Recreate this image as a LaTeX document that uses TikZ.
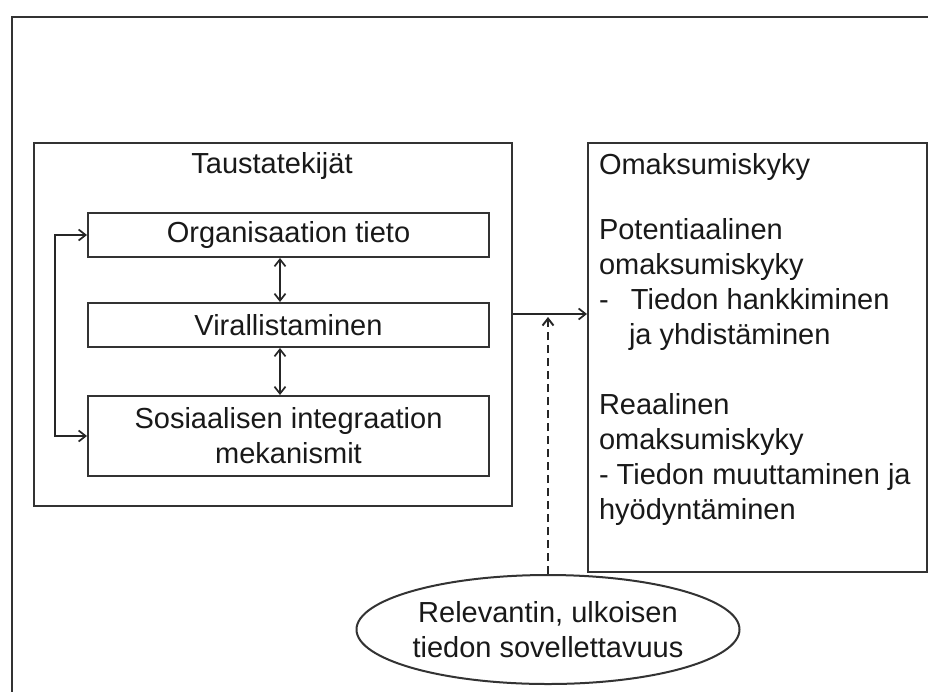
\documentclass[tikz,border=0pt]{standalone}
\usepackage{fontspec}
\setmainfont{Liberation Sans}
\usetikzlibrary{arrows.meta,shapes.geometric}
\begin{document}
\begin{tikzpicture}[x=1pt,y=-1pt,
  line width=2pt, draw=black!80,
  >={Straight Barb[length=7pt,width=11pt]},
  every node/.style={font=\fontsize{29}{35}\selectfont, text=black!90},
  box/.style={draw, rectangle, inner sep=0pt, align=center},
  conn/.style={->, line width=1.7pt, draw=black!85}]
\clip (0,0) rectangle (928,691);
\fill[white] (0,0) rectangle (928,691);
% outer frame
\node[box, minimum width=930, minimum height=690, anchor=north west] (frame) at (11,16) {};
% left container
\node[box, minimum width=478, minimum height=363] (tausta) at (273,324.5) {};
\node (ttitle) at (272,166) {Taustatekijät};
\node[box, minimum width=401, minimum height=44] (org) at (288.5,235) {Organisaation tieto};
\node[box, minimum width=401, minimum height=44] (vir) at (288.5,325) {Virallistaminen};
\node[box, minimum width=401, minimum height=80] (sos) at (288.5,436) {Sosiaalisen integraation\\mekanismit};
% right box
\node[box, minimum width=339, minimum height=429] (omak) at (757.5,357.5) {};
\node[anchor=north west, inner sep=0pt, align=left] (omaktext) at (598,152)
  {Omaksumiskyky\\[30pt]
   Potentiaalinen\\
   omaksumiskyky\\
   \makebox[32pt][l]{-}Tiedon hankkiminen\\
   \hspace*{30pt}ja yhdistäminen\\[35pt]
   Reaalinen\\
   omaksumiskyky\\
   - Tiedon muuttaminen ja\\
   hyödyntäminen};
% ellipse
\node[draw, ellipse, inner sep=0pt, minimum width=383, minimum height=109] (rel) at (548,629.5) {};
\node[align=center, inner sep=0pt] (reltext) at (548,630) {Relevantin, ulkoisen\\tiedon sovellettavuus};
% connectors
\coordinate (j) at (548,314);
\coordinate (jt) at (548,317);
\draw[conn] (tausta.east |- j) -- (omak.west |- j);
\draw[conn, line width=1.9pt, dash pattern=on 8pt off 5pt] (rel.north) -- (jt);
\coordinate (vx) at (280,0);
\draw[conn, <->] (org.south -| vx) -- (vir.north -| vx);
\draw[conn, <->] (vir.south -| vx) -- (sos.north -| vx);
\draw[conn, <->] (org.west) -- ++(-32,0) |- (sos.west);
\end{tikzpicture}
\end{document}
